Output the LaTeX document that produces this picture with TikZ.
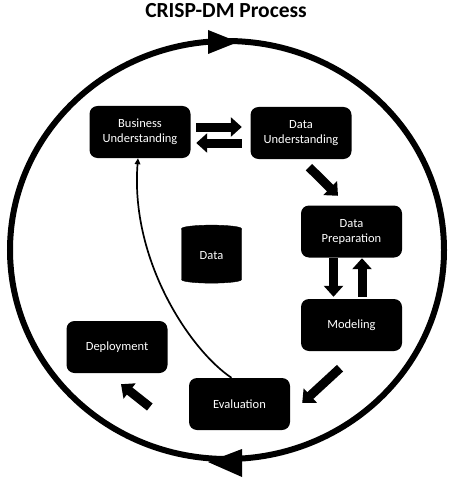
\documentclass[tikz,border=0pt]{standalone}
\usepackage{fontspec}
\setmainfont{Carlito}
\usetikzlibrary{arrows.meta,shapes.geometric,calc}
\begin{document}
\begin{tikzpicture}[x=1pt,y=-1pt,
  stage/.style={fill=black,rounded corners=8pt,minimum width=101pt,minimum height=52pt,
    text=white,align=center,font=\fontsize{12.5}{15}\selectfont,inner sep=0pt},
  fat/.style={line width=9pt,-{Triangle[length=11pt,width=19pt]}},
  back/.style={line width=1.7pt,-{Triangle[length=6pt,width=5.5pt]}}]
\useasboundingbox (0,0) rectangle (452,484);
\node[font=\bfseries\fontsize{21.5}{24}\selectfont] (title) at (226,11) {CRISP-DM Process};
% cycle
\draw[line width=6pt] (227,250) ellipse [x radius=217pt, y radius=209pt];
\fill (208,30) -- (208,54) -- (238,42) -- cycle;
\fill (242,449) -- (242,477) -- (208,462) -- cycle;
% stages
\node[stage] (bu) at (140,132) {Business\\Understanding};
\node[stage] (du) at (301,133) {Data\\Understanding};
\node[stage] (dp) at (351.5,231.5) {Data\\Preparation};
\node[stage] (mo) at (351.5,325) {Modeling};
\node[stage] (de) at (117,347) {Deployment};
\node[stage] (ev) at (239.5,404) {Evaluation};
\node[cylinder,shape border rotate=90,aspect=0.3,fill=black,draw=black,
  minimum width=60pt,minimum height=58pt,text=white,inner sep=0pt,
  font=\fontsize{12.5}{15}\selectfont] (data) at (211.5,256) {Data};
% arrows
\draw[fat] ($(bu.east)+(5.5,-5)$) -- ($(du.west)+(-8.5,-6)$);
\draw[fat] ($(du.west)+(-8.5,10)$) -- ($(bu.east)+(5.5,11)$);
\draw[fat] ($(du.south)+(8,8)$) -- ($(dp.north)+(-13.5,-9.5)$);
\draw[fat] ($(dp.south)+(-18,0.5)$) -- ($(mo.north)+(-18,-2)$);
\draw[fat] ($(mo.north)+(10.5,-2)$) -- ($(dp.south)+(10.5,0.5)$);
\draw[fat] ($(mo.south)+(-11.5,17)$) -- ($(ev.east)+(12,-1)$);
\draw[fat] ($(ev.west)+(-39,3)$) -- ($(de.south)+(4,11)$);
\draw[back] ($(ev.north)+(-8,0)$) .. controls (190,350) and (130,260) .. ($(bu.south)+(-2,0)$);
\end{tikzpicture}
\end{document}
